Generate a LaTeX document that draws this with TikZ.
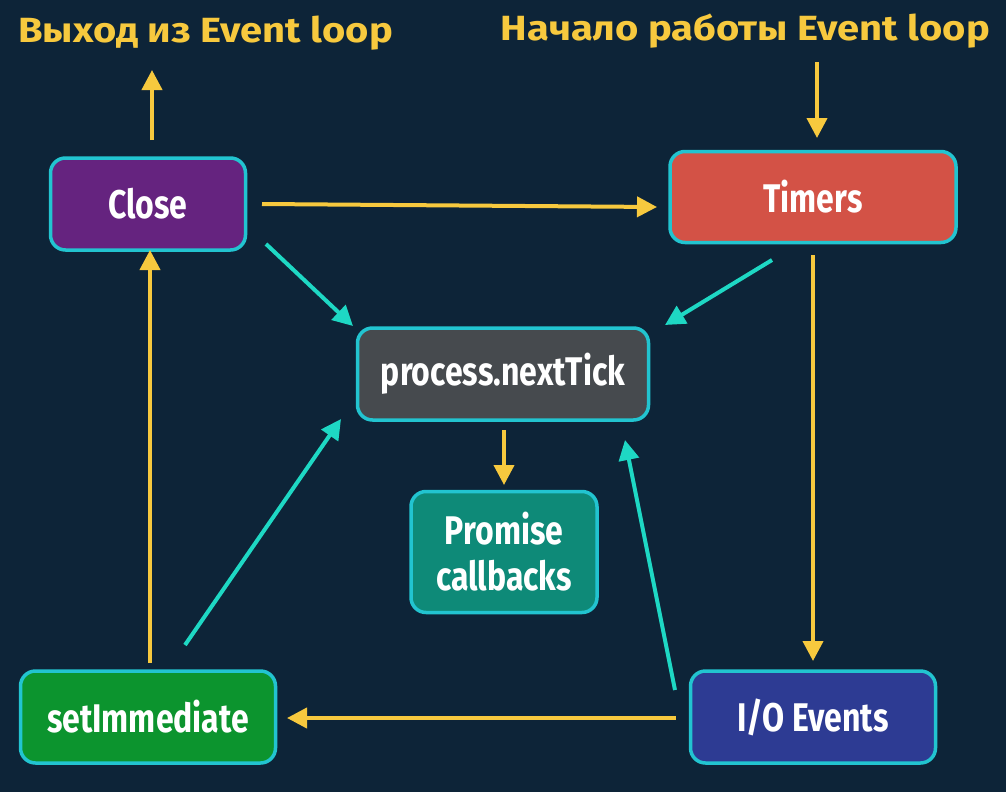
\documentclass[tikz,border=0pt]{standalone}
\usepackage{fontspec}
\setmainfont{Fira Sans}
\usetikzlibrary{arrows.meta}
\definecolor{bg}{HTML}{0D2438}
\definecolor{bordc}{HTML}{22C4D0}
\definecolor{yel}{HTML}{F7C93E}
\definecolor{cya}{HTML}{1ED8C4}
\definecolor{cpurple}{HTML}{65237F}
\definecolor{cred}{HTML}{D35246}
\definecolor{cgrey}{HTML}{464A4E}
\definecolor{cteal}{HTML}{0E8A78}
\definecolor{cgreen}{HTML}{0C942E}
\definecolor{cblue}{HTML}{2D3B93}
\newcommand{\nt}[1]{\scalebox{0.8}[1]{#1}}
\newcommand{\wt}[1]{\scalebox{1.14}[1]{#1}}
\tikzset{
  box/.style={draw=bordc, line width=3.5pt, rounded corners=15pt, inner sep=0pt,
    text=white, font=\fontsize{40}{46}\selectfont\bfseries, align=center},
  yarr/.style={draw=yel, line width=4pt, -{Triangle[length=20pt,width=20pt]}},
  carr/.style={draw=cya, line width=4pt, -{Triangle[length=20pt,width=20pt]}},
  ttl/.style={text=yel, font=\fontsize{35}{40}\selectfont\bfseries, inner sep=0pt}
}
\begin{document}
\begin{tikzpicture}[x=1pt,y=-1pt]
\fill[bg] (0,0) rectangle (1006,792);
\useasboundingbox (0,0) rectangle (1006,792);
% boxes
\node[box, fill=cpurple, minimum width=195pt, minimum height=92pt] (close) at (148,204) {\nt{Close}};
\node[box, fill=cred, minimum width=286pt, minimum height=91pt] (timers) at (813,197) {\nt{Timers}};
\node[box, fill=cgrey, minimum width=291pt, minimum height=92pt] (tick) at (503,374) {\nt{process.nextTick}};
\node[box, fill=cteal, minimum width=186pt, minimum height=121pt] (prom) at (504,552) {\nt{Promise}\\\nt{callbacks}};
\node[box, fill=cgreen, minimum width=255pt, minimum height=92pt] (setimm) at (148,717) {\nt{setImmediate}};
\node[box, fill=cblue, minimum width=245pt, minimum height=92pt] (io) at (813,717) {\nt{I/O Events}};
% titles
\node[ttl, anchor=west] (exit) at (18,33) {\wt{Выход из Event loop}};
\node[ttl, anchor=east] (start) at (990,31) {\wt{Начало работы Event loop}};
% coordinates
\coordinate (exitA) at (152,140);
\coordinate (exitB) at (152,70);
\coordinate (startA) at (817,62);
\coordinate (startB) at (817,138);
\coordinate (ctA) at (262,204);
\coordinate (ctB) at (657,207);
\coordinate (tiA) at (813,255);
\coordinate (tiB) at (813,661);
\coordinate (isA) at (676,718);
\coordinate (isB) at (287,718);
\coordinate (scA) at (150,663);
\coordinate (scB) at (150,250);
\coordinate (tpA) at (504,430);
\coordinate (tpB) at (504,485);
\coordinate (cnA) at (266,244);
\coordinate (cnB) at (353,326);
\coordinate (tnA) at (772,260);
\coordinate (tnB) at (665,325);
\coordinate (snA) at (185,645);
\coordinate (snB) at (341,419);
\coordinate (inA) at (675,690);
\coordinate (inB) at (625,440);
% yellow arrows
\draw[yarr] (exitA) -- (exitB);
\draw[yarr] (startA) -- (startB);
\draw[yarr] (ctA) -- (ctB);
\draw[yarr] (tiA) -- (tiB);
\draw[yarr] (isA) -- (isB);
\draw[yarr] (scA) -- (scB);
\draw[yarr] (tpA) -- (tpB);
% cyan arrows
\draw[carr] (cnA) -- (cnB);
\draw[carr] (tnA) -- (tnB);
\draw[carr] (snA) -- (snB);
\draw[carr] (inA) -- (inB);
\end{tikzpicture}
\end{document}
